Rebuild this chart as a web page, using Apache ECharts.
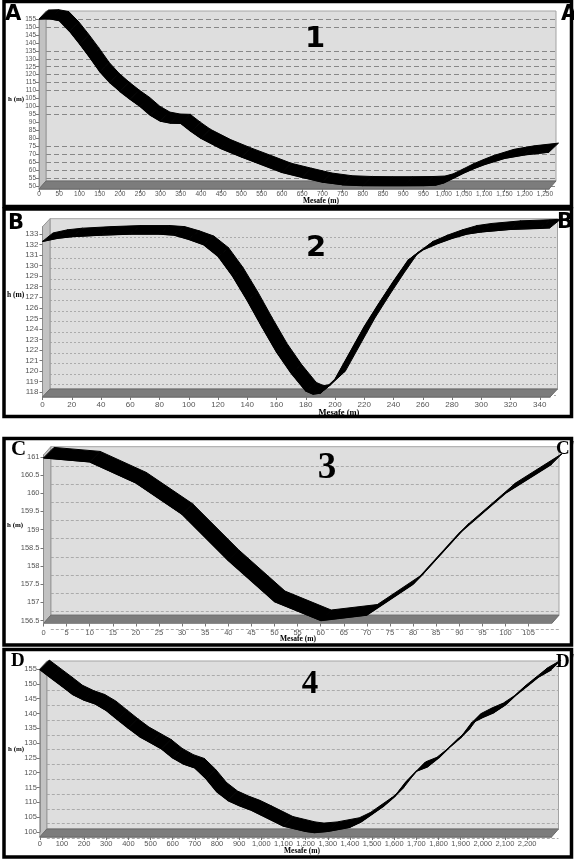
<!DOCTYPE html>
<html>
<head>
<meta charset="utf-8">
<script src="https://cdn.jsdelivr.net/npm/echarts@6/dist/echarts.min.js"></script>
<style>
html,body{margin:0;padding:0;background:#ffffff;}
#chart{width:574px;height:859px;}
</style>
</head>
<body>
<div id="chart"></div>
<script>
// ---------------- data ----------------
// Profile 1 (A - A')
const dist1 = [0, 25, 50, 75, 100, 125, 150, 175, 200, 225, 250, 275, 300, 325, 350, 375, 400, 450, 500, 550, 600, 650, 700, 750, 800, 850, 900, 950, 980, 1000, 1025, 1050, 1075, 1100, 1150, 1200, 1260];
const elev1 = [155, 155.2, 154, 147.5, 139.5, 131, 122, 115, 109.5, 104.5, 100, 94.5, 90.8, 89.6, 89.4, 84.5, 80, 73.5, 68.3, 63.5, 58.6, 55.5, 52.5, 50.8, 50.3, 50.2, 50.2, 50.3, 50.6, 52, 55.1, 58.3, 61, 63.5, 67.4, 69.6, 71.3];
const xTicks1 = [0, 50, 100, 150, 200, 250, 300, 350, 400, 450, 500, 550, 600, 650, 700, 750, 800, 850, 900, 950, 1000, 1050, 1100, 1150, 1200, 1250];
const yTicks1 = [50, 55, 60, 65, 70, 75, 80, 85, 90, 95, 100, 105, 110, 115, 120, 125, 130, 135, 140, 145, 150, 155];

// Profile 2 (B - B')
const dist2 = [0, 10, 20, 40, 60, 80, 90, 100, 110, 120, 130, 140, 150, 160, 170, 180, 185, 190, 200, 210, 220, 230, 240, 250, 260, 270, 280, 290, 300, 320, 340, 347];
const elev2 = [132.3, 132.6, 132.75, 132.9, 133.0, 133.0, 132.9, 132.5, 132.0, 130.9, 129.0, 126.7, 124.2, 121.8, 119.8, 118.1, 117.8, 117.9, 119.2, 121.7, 124.2, 126.4, 128.5, 130.5, 131.5, 132.1, 132.6, 133.0, 133.2, 133.45, 133.55, 133.6];
const xTicks2 = [0, 20, 40, 60, 80, 100, 120, 140, 160, 180, 200, 220, 240, 260, 280, 300, 320, 340];
const yTicks2 = [118, 119, 120, 121, 122, 123, 124, 125, 126, 127, 128, 129, 130, 131, 132, 133];

// Profile 3 (C - C')
const dist3 = [0, 10, 20, 30, 40, 50, 60, 70, 80, 90, 100, 110];
const elev3 = [160.97, 160.86, 160.28, 159.42, 158.15, 157.02, 156.5, 156.65, 157.5, 158.9, 160.0, 160.8];
const xTicks3 = [0, 5, 10, 15, 20, 25, 30, 35, 40, 45, 50, 55, 60, 65, 70, 75, 80, 85, 90, 95, 100, 105];
const yTicks3 = [156.5, 157, 157.5, 158, 158.5, 159, 159.5, 160, 160.5, 161];

// Profile 4 (D - D')
const dist4 = [0, 50, 100, 150, 200, 250, 300, 350, 400, 450, 500, 550, 600, 650, 700, 750, 800, 850, 900, 950, 1000, 1100, 1200, 1240, 1300, 1400, 1450, 1500, 1550, 1600, 1650, 1700, 1750, 1800, 1850, 1900, 1950, 2000, 2050, 2100, 2150, 2200, 2250, 2310];
const elev4 = [154.8, 152, 149.2, 146.3, 144.5, 143.2, 141, 138, 135, 132.2, 130.1, 128, 125, 122.9, 121.6, 118, 113.5, 110.6, 108.9, 107.5, 105.7, 102, 100.2, 99.8, 100.2, 101.6, 103.4, 106, 108.6, 111.8, 116.6, 120.5, 122, 125, 128.6, 131.8, 136.8, 138.7, 140.3, 142.8, 146.2, 149.2, 152.2, 154.8];
const xTicks4 = [0, 100, 200, 300, 400, 500, 600, 700, 800, 900, 1000, 1100, 1200, 1300, 1400, 1500, 1600, 1700, 1800, 1900, 2000, 2100, 2200];
const yTicks4 = [100, 105, 110, 115, 120, 125, 130, 135, 140, 145, 150, 155];

// ---------------- layout / style ----------------
// which dashed lines are visible in panel 1 (bottom to top)
const gridOn1 = [1,1,1,1,1,1,0,0,0,1,1,0,1,1,1,1,1,1,0,0,1,1];

const panels = [
  {x:dist1, y:elev1, xt:xTicks1, yt:yTicks1, L:39, R:549, T:19, B:186, fe:3, dx:7, dy:8, rdx:9.5, rdy:9, xmax:1260, ymax:155, gOff:0,
   lab:6.5, xm:2, ym:3, gridColor:'#878787', gridType:[5,3], gridOn:gridOn1},
  {x:dist2, y:elev2, xt:xTicks2, yt:yTicks2, L:42.5, R:550, T:226.7, B:392, fe:5, dx:7.5, dy:8, rdx:10.5, rdy:8.5, xmax:347, ymax:133.7, gOff:3,
   lab:8, xm:4, ym:4, gridColor:'#ababab', gridType:[2,2]},
  {x:dist3, y:elev3, xt:xTicks3, yt:yTicks3, L:43.5, R:551.7, T:455, B:620.5, fe:3, dx:7.3, dy:8.3, rdx:10.5, rdy:10.5, xmax:110, ymax:161.05, gOff:9,
   lab:7.5, xm:5, ym:4, gridColor:'#ababab', gridType:[3,2]},
  {x:dist4, y:elev4, xt:xTicks4, yt:yTicks4, L:39.8, R:551.5, T:669, B:832, fe:5, dx:7, dy:8, rdx:9.5, rdy:9.5, xmax:2310, ymax:155, gOff:6.5,
   lab:7.5, xm:3, ym:3, gridColor:'#ababab', gridType:[3,2]}
];

function fmtK(v){
  if (v >= 1000) { const r = Math.round(v % 1000); return Math.floor(v/1000) + ',' + String(r).padStart(3,'0'); }
  return String(v);
}

const grids = [], xAxes = [], yAxes = [], series = [], els = [];
const gridsB = [], xAxesB = [], yAxesB = [];
const N = panels.length;

panels.forEach((p, i) => {
  const ymin = p.yt[0], ylast = p.yt[p.yt.length-1];
  const yPix = v => p.B - (v - ymin) / (p.ymax - ymin) * (p.B - p.T);
  const Bf = p.B + p.fe;
  // front grid (data plane)
  grids.push({left:p.L, top:p.T, width:p.R - p.L, height:p.B - p.T});
  xAxes.push({type:'value', gridIndex:i, min:p.xt[0], max:p.xmax, interval:p.xt[1]-p.xt[0], offset:p.fe, z:3,
    axisLine:{show:true, lineStyle:{color:'#8c8c8c', width:1}},
    axisTick:{show:true, length:3, customValues:p.xt, lineStyle:{color:'#777'}},
    axisLabel:{fontSize:p.lab, color:'#555', margin:p.xm, customValues:p.xt, fontFamily:'Liberation Sans',
      formatter:v => (p.xt.indexOf(v) >= 0 ? fmtK(v) : '')},
    splitLine:{show:false}});
  yAxes.push({type:'value', gridIndex:i, min:ymin, max:p.ymax, interval:p.yt[1]-p.yt[0], z:3,
    axisLine:{show:true, lineStyle:{color:'#8c8c8c', width:1}},
    axisTick:{show:true, length:3, customValues:p.yt, lineStyle:{color:'#777'}},
    axisLabel:{fontSize:p.lab, color:'#555', margin:p.ym, customValues:p.yt, fontFamily:'Liberation Sans',
      formatter:v => (p.yt.indexOf(v) >= 0 ? String(v) : '')},
    splitLine:{show:false}});
  // ribbon (3D extruded profile)
  const segs = [];
  for (let k = 0; k < p.x.length - 1; k++) segs.push([p.x[k], p.y[k], p.x[k+1], p.y[k+1]]);
  series.push({type:'custom', coordinateSystem:'cartesian2d', xAxisIndex:i, yAxisIndex:i, clip:false, z:5, silent:true,
    encode:{x:[0,2], y:[1,3]}, data:segs,
    renderItem:(params, api) => {
      const a = api.coord([api.value(0), api.value(1)]);
      const b = api.coord([api.value(2), api.value(3)]);
      return {type:'polygon', shape:{points:[a, b, [b[0]+p.rdx, b[1]-p.rdy], [a[0]+p.rdx, a[1]-p.rdy]]},
        style:{fill:'#000', stroke:'#000', lineWidth:1}};
    }});
  series.push({type:'line', xAxisIndex:i, yAxisIndex:i, data:p.x.map((x,k)=>[x, p.y[k]]), symbol:'none', showSymbol:false,
    clip:false, z:6, silent:true, lineStyle:{color:'#000', width:1.3}});
  // back-wall grid lines (decorative second grid)
  const gi = N + i;
  const topB = yPix(ylast) + p.gOff;
  gridsB.push({left:p.L + p.dx, top:topB, width:p.R - p.L, height:(p.B + p.gOff) - topB});
  xAxesB.push({type:'value', gridIndex:gi, show:false, min:0, max:1});
  let colors = p.gridColor;
  if (p.gridOn) colors = p.gridOn.map(o => o ? p.gridColor : 'rgba(0,0,0,0)');
  yAxesB.push({type:'value', gridIndex:gi, min:ymin, max:ylast, interval:p.yt[1]-p.yt[0], z:1,
    axisLine:{show:false}, axisTick:{show:false}, axisLabel:{show:false},
    splitLine:{show:true, lineStyle:{color:colors, type:p.gridType, width:1}}});
  // 3D box walls
  els.push({type:'rect', z:0, shape:{x:p.L + p.dx, y:p.T - p.dy, width:p.R - p.L, height:Bf - p.T},
    style:{fill:'#dedede', stroke:'#a3a3a3', lineWidth:1}});
  els.push({type:'polygon', z:2, shape:{points:[[p.L,p.T],[p.L+p.dx,p.T-p.dy],[p.L+p.dx,Bf-p.dy],[p.L,Bf]]},
    style:{fill:'#c2c2c2', stroke:'#969696', lineWidth:1}});
  els.push({type:'polygon', z:2, shape:{points:[[p.L,Bf],[p.L+p.dx,Bf-p.dy],[p.R+p.dx,Bf-p.dy],[p.R,Bf]]},
    style:{fill:'#7c7c7c', stroke:'#6a6a6a', lineWidth:1}});
});

// panel frames
[[4, 1.5, 567.5, 205], [4, 209, 567.5, 207.5], [4, 438.5, 567.5, 206.5], [4, 649.5, 567.5, 207.5]].forEach(r => {
  els.push({type:'rect', z:12, shape:{x:r[0], y:r[1], width:r[2], height:r[3]}, style:{fill:null, stroke:'#000', lineWidth:3.5}});
});

function txt(s, x, y, size, family, align, weight){
  els.push({type:'text', z:15, x:x, y:y, style:{text:s, fontSize:size, fontFamily:family, fontWeight:weight||'bold',
    fill:'#000', textAlign:align||'left', textVerticalAlign:'middle'}});
}
const SANS = 'DejaVu Sans', SERIF = 'Liberation Serif';
// end labels and profile numbers
txt('A', 5, 15, 21, SANS); txt("A'", 561, 15, 21, SANS); txt('1', 315, 39, 29, SANS, 'center');
txt('B', 8, 224, 21, SANS); txt("B'", 557, 223, 21, SANS); txt('2', 316, 248, 29, SANS, 'center');
txt('C', 11, 450, 21, SERIF); txt("C'", 556, 449, 19, SERIF); txt('3', 327, 468, 37, SERIF, 'center');
txt('D', 11, 661, 19, SERIF); txt("D'", 556, 662, 19, SERIF); txt('4', 310, 684, 33, SERIF, 'center');
// axis titles
txt('h (m)', 8, 99, 7, SERIF); txt('h (m)', 7, 295, 7.5, SERIF); txt('h (m)', 7, 525, 7, SERIF); txt('h (m)', 8, 749, 7, SERIF);
txt('Mesafe (m)', 321, 201, 7.5, SERIF, 'center'); txt('Mesafe (m)', 339, 412.5, 8.5, SERIF, 'center');
txt('Mesafe (m)', 298, 639.5, 7.5, SERIF, 'center'); txt('Mesafe (m)', 302, 851.5, 7.5, SERIF, 'center');

const chart = echarts.init(document.getElementById('chart'), null, {renderer:'canvas'});
chart.setOption({
  animation:false,
  backgroundColor:'#ffffff',
  grid:grids.concat(gridsB), xAxis:xAxes.concat(xAxesB), yAxis:yAxes.concat(yAxesB), series:series,
  graphic:{elements:els}
});
</script>
</body>
</html>
